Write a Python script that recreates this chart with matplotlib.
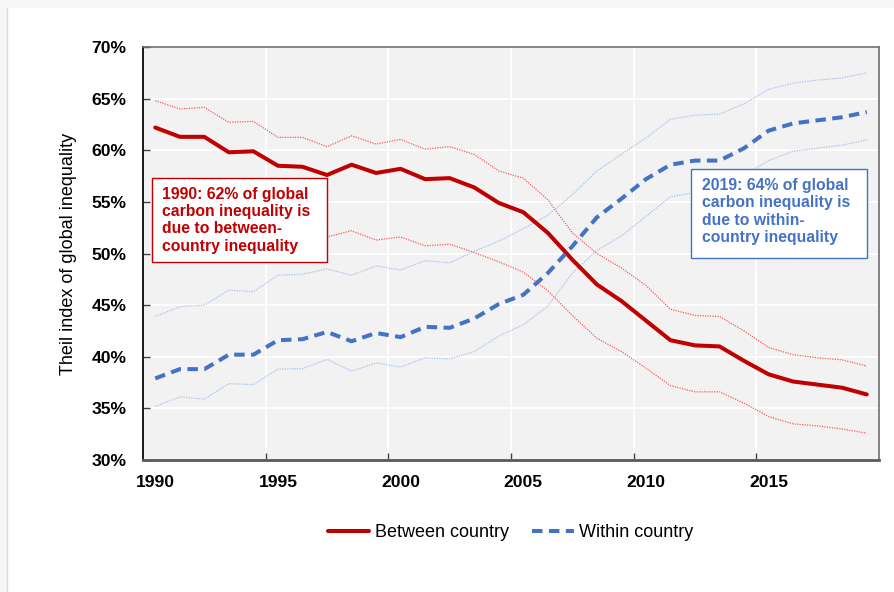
import matplotlib.pyplot as plt
from matplotlib.patches import Rectangle
from matplotlib.ticker import FixedLocator, PercentFormatter

plt.rcParams['font.family'] = ['Liberation Sans', 'DejaVu Sans']

years = list(range(1990, 2020))

# Theil index shares (%)
between = [62.2, 61.3, 61.3, 59.8, 59.9, 58.5, 58.4, 57.6, 58.6, 57.8,
           58.2, 57.2, 57.3, 56.4, 54.9, 54.0, 52.0, 49.4, 47.0, 45.4,
           43.5, 41.6, 41.1, 41.0, 39.6, 38.3, 37.6, 37.3, 37.0, 36.35]
between_hi = [64.8, 64.0, 64.15, 62.7, 62.8, 61.25, 61.25, 60.35, 61.4, 60.6,
              61.05, 60.1, 60.35, 59.6, 58.0, 57.3, 55.2, 52.0, 50.0, 48.6,
              46.9, 44.6, 44.0, 43.9, 42.5, 40.9, 40.2, 39.9, 39.7, 39.1]
between_lo = [56.0, 55.2, 55.3, 53.8, 53.9, 52.5, 52.5, 51.6, 52.2, 51.3,
              51.6, 50.75, 50.9, 50.1, 49.2, 48.2, 46.4, 44.0, 41.8, 40.5,
              38.9, 37.2, 36.6, 36.6, 35.5, 34.2, 33.5, 33.3, 33.0, 32.6]
within = [37.9, 38.8, 38.8, 40.2, 40.2, 41.6, 41.7, 42.4, 41.5, 42.3,
          41.9, 42.9, 42.8, 43.7, 45.1, 46.0, 48.1, 50.7, 53.5, 55.3,
          57.2, 58.6, 59.0, 59.0, 60.2, 61.9, 62.6, 62.9, 63.2, 63.7]
within_hi = [43.9, 44.85, 45.0, 46.45, 46.3, 47.9, 48.0, 48.5, 47.9, 48.8,
             48.4, 49.3, 49.1, 50.2, 51.2, 52.4, 53.7, 55.7, 58.0, 59.6,
             61.2, 63.0, 63.4, 63.5, 64.5, 65.9, 66.5, 66.8, 67.0, 67.5]
within_lo = [35.2, 36.1, 35.9, 37.4, 37.3, 38.8, 38.85, 39.75, 38.6, 39.4,
             39.0, 39.9, 39.8, 40.5, 42.0, 43.1, 44.9, 48.1, 50.3, 51.7,
             53.6, 55.5, 55.9, 56.2, 57.6, 59.0, 59.9, 60.2, 60.5, 61.0]

year_labels = [1990, 1995, 2000, 2005, 2010, 2015]
pct_ticks = [30, 35, 40, 45, 50, 55, 60, 65, 70]

red = '#c00000'
blue = '#4472c4'

fig = plt.figure(figsize=(8.94, 5.92), dpi=100, facecolor='#f5f6f6')
fig.patches.append(Rectangle((7 / 894, 0), 1, 584 / 592, transform=fig.transFigure,
                             facecolor='white', edgecolor='none', zorder=-10))
fig.lines.append(plt.Line2D([6.5 / 894, 6.5 / 894], [0, 584 / 592],
                            transform=fig.transFigure, color='#d9d9d9', lw=1))

ax = fig.add_axes([143 / 894, 1 - 460 / 592, 736 / 894, 413 / 592])
ax.set_facecolor('#f2f2f2')

ax.plot(years, between_hi, color='#ff5a5a', lw=0.9, ls=(0, (1, 1)))
ax.plot(years, between_lo, color='#ff5a5a', lw=0.9, ls=(0, (1, 1)))
ax.plot(years, within_hi, color='#a9c1ea', lw=0.9, ls=(0, (1, 1)))
ax.plot(years, within_lo, color='#a9c1ea', lw=0.9, ls=(0, (1, 1)))
ax.plot(years, between, color=red, lw=2.9, solid_joinstyle='round',
        solid_capstyle='round', label='Between country')
ax.plot(years, within, color=blue, lw=2.9, ls=(0, (2.6, 1.6)),
        label='Within country')

ax.set_xlim(1989.5, 2019.5)
ax.set_ylim(30, 70)
ax.yaxis.set_major_locator(FixedLocator(pct_ticks))
ax.yaxis.set_major_formatter(PercentFormatter(decimals=0))
ax.xaxis.set_major_locator(FixedLocator([y - 0.5 for y in year_labels[1:]]))
ax.xaxis.set_major_formatter(plt.NullFormatter())
ax.xaxis.set_minor_locator(FixedLocator(year_labels))
ax.xaxis.set_minor_formatter(plt.FixedFormatter([str(y) for y in year_labels]))

ax.grid(True, which='major', color='white', lw=1.3)
ax.set_axisbelow(True)
ax.tick_params(axis='both', which='major', direction='in', length=5, width=1,
               color='#404040')
ax.tick_params(axis='y', labelsize=12.6, pad=12)
ax.tick_params(axis='x', which='minor', length=0, labelsize=12.6, pad=11)
for lab in ax.get_yticklabels() + ax.get_xticklabels(minor=True):
    lab.set_fontweight('bold')

ax.spines['left'].set_color('#1a1a1a')
ax.spines['left'].set_linewidth(1.4)
ax.spines['bottom'].set_color('#595959')
ax.spines['bottom'].set_linewidth(2)
for s in ('top', 'right'):
    ax.spines[s].set_color('#6f6f6f')
    ax.spines[s].set_linewidth(1.2)

ax.set_ylabel('Theil index of global inequality', fontsize=13, labelpad=10)

# annotation boxes (axes fraction)
ax.add_patch(Rectangle((0.0122, 0.479), 0.2378, 0.204, transform=ax.transAxes,
                       facecolor='white', edgecolor=red, lw=1, zorder=4))
ax.add_patch(Rectangle((0.7446, 0.489), 0.2391, 0.2156, transform=ax.transAxes,
                       facecolor='white', edgecolor=blue, lw=1, zorder=4))
ax.text(0.026, 0.662, '1990: 62% of global\ncarbon inequality is\ndue to between-\ncountry inequality',
        transform=ax.transAxes, ha='left', va='top', fontsize=11.3,
        fontweight='bold', color=red, linespacing=1.2, zorder=5)
ax.text(0.7595, 0.683, '2019: 64% of global\ncarbon inequality is\ndue to within-\ncountry inequality',
        transform=ax.transAxes, ha='left', va='top', fontsize=11.3,
        fontweight='bold', color=blue, linespacing=1.2, zorder=5)

fig.legend(loc='center', bbox_to_anchor=(0.571, 0.0997), ncol=2, frameon=False,
           fontsize=13, handlelength=2.3, handletextpad=0.3, columnspacing=1.3)

fig.savefig('out.png', dpi=100, facecolor=fig.get_facecolor())
